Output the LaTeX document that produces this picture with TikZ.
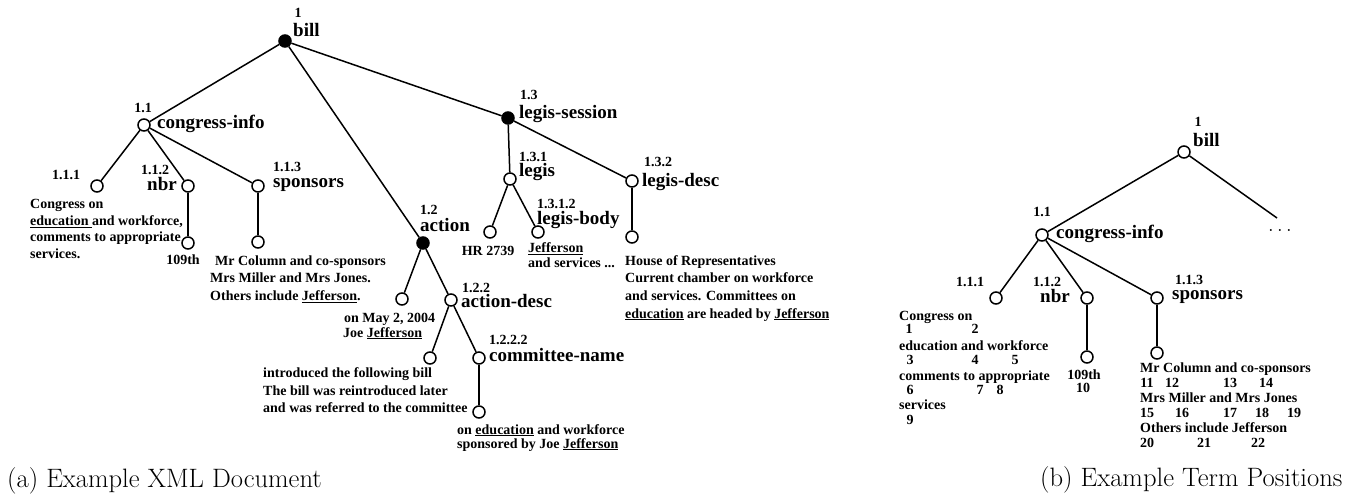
\documentclass[tikz,border=0pt]{standalone}
\usepackage{fontspec}
\newfontfamily\tms{Liberation Serif}
\begin{document}
\begin{tikzpicture}[x=1pt,y=-1pt,
  onode/.style={circle,draw,line width=1.5pt,fill=white,minimum size=12pt,inner sep=0pt},
  fnode/.style={circle,draw,line width=1.5pt,fill=black,minimum size=12pt,inner sep=0pt},
  edge/.style={line width=1.5pt},
  lbl/.style={font=\tms\bfseries\fontsize{19}{22}\selectfont,inner sep=0pt,anchor=base west},
  lnum/.style={font=\tms\bfseries\fontsize{14}{17}\selectfont,inner sep=0pt,anchor=base},
  txt/.style={font=\tms\bfseries\fontsize{14}{17}\selectfont,inner sep=0pt,anchor=base west},
  captxt/.style={font=\fontsize{26.6}{30}\selectfont,inner sep=0pt,anchor=base west}]
\useasboundingbox (0,0) rectangle (1357,494);

% ---------- (a) tree ----------
\node[fnode] (bill) at (285,41) {};
\node[onode] (ci) at (144,125) {};
\node[onode] (n111) at (97,186) {};
\node[onode] (nbr) at (188,186) {};
\node[onode] (spo) at (258,186) {};
\node[onode] (nbr1) at (188,243) {};
\node[onode] (spo1) at (258,242) {};
\node[fnode] (act) at (423,243) {};
\node[onode] (n121) at (402,299) {};
\node[onode] (ad) at (451,300) {};
\node[onode] (n1221) at (430,358) {};
\node[onode] (cn) at (479,358) {};
\node[onode] (cn1) at (479,412) {};
\node[fnode] (ls) at (508,118) {};
\node[onode] (leg) at (510,179) {};
\node[onode] (ld) at (632,181) {};
\node[onode] (hr) at (490,232) {};
\node[onode] (lb) at (538,232) {};
\node[onode] (ld1) at (632,237) {};

\draw[edge] (bill) -- (ci);
\draw[edge] (bill) -- (act);
\draw[edge] (bill) -- (ls);
\draw[edge] (ci) -- (n111);
\draw[edge] (ci) -- (nbr);
\draw[edge] (ci) -- (spo);
\draw[edge] (nbr) -- (nbr1);
\draw[edge] (spo) -- (spo1);
\draw[edge] (act) -- (n121);
\draw[edge] (act) -- (ad);
\draw[edge] (ad) -- (n1221);
\draw[edge] (ad) -- (cn);
\draw[edge] (cn) -- (cn1);
\draw[edge] (ls) -- (leg);
\draw[edge] (ls) -- (ld);
\draw[edge] (leg) -- (hr);
\draw[edge] (leg) -- (lb);
\draw[edge] (ld) -- (ld1);

\node[lnum] (l1) at (298,18) {1};
\node[lbl] (lbill) at (293,37) {bill};
\node[lnum] (l11) at (143,113) {1.1};
\node[lbl] (lci) at (157,129) {congress-info};
\node[lnum] (l111) at (66,180) {1.1.1};
\node[lnum] (l112) at (155,175) {1.1.2};
\node[lbl,anchor=base east] (lnbr) at (177,191) {nbr};
\node[lnum,anchor=base west] (l113) at (273,172) {1.1.3};
\node[lbl] (lspo) at (273,188) {sponsors};
\node[lnum,anchor=base west] (l12) at (420,215) {1.2};
\node[lbl] (lact) at (420,232) {action};
\node[lnum,anchor=base west] (l13) at (520,100) {1.3};
\node[lbl] (lls) at (519,119) {legis-session};
\node[lnum,anchor=base west] (l131) at (519,162) {1.3.1};
\node[lbl] (lleg) at (519,177) {legis};
\node[lnum,anchor=base west] (l132) at (644,167) {1.3.2};
\node[lbl] (lld) at (642,187) {legis-desc};
\node[lnum,anchor=base west] (l1312) at (537,209) {1.3.1.2};
\node[lbl] (llb) at (537,225) {legis-body};
\node[lnum,anchor=base west] (l122) at (462,293) {1.2.2};
\node[lbl] (lad) at (461,308) {action-desc};
\node[lnum,anchor=base west] (l1222) at (489,344) {1.2.2.2};
\node[lbl] (lcn) at (489,361) {committee-name};

\node[txt] (ta1) at (30,209) {Congress on};
\node[txt] (ta2) at (30,226) {\underline{education\ }and workforce,};
\node[txt] (ta3) at (30,242) {comments to appropriate};
\node[txt] (ta4) at (30,259) {services.};
\node[lnum] (tb1) at (183,265) {109th};
\node[txt] (tc1) at (215,266) {Mr Column and co-sponsors};
\node[txt] (tc2) at (210,283) {Mrs Miller and Mrs Jones.};
\node[txt] (tc3) at (210,301) {Others include \underline{Jefferson}.};
\node[lnum] (td1) at (488,256) {HR 2739};
\node[txt] (te1) at (528,253) {\underline{Jefferson}};
\node[txt] (te2) at (528,268) {and services ...};
\node[txt] (tf1) at (625,266) {House of Representatives};
\node[txt] (tf2) at (625,283) {Current chamber on workforce};
\node[txt] (tf3) at (625,301) {and services. Committees on};
\node[txt] (tf4) at (625,318) {\underline{education} are headed by \underline{Jefferson}};
\node[txt] (tg1) at (344,322) {on May 2, 2004};
\node[txt] (tg2) at (343,337) {Joe \underline{Jefferson}};
\node[txt] (th1) at (263,377) {introduced the following bill};
\node[txt] (th2) at (263,395) {The bill was reintroduced later};
\node[txt] (th3) at (263,412) {and was referred to the committee};
\node[txt] (ti1) at (457,434) {on \underline{education} and workforce};
\node[txt] (ti2) at (457,448) {sponsored by Joe \underline{Jefferson}};

\node[captxt] (capa) at (7,487) {(a) Example XML Document};

% ---------- (b) tree ----------
\node[onode] (rbill) at (1184,152) {};
\node[onode] (rci) at (1042,235) {};
\coordinate (rdots) at (1277,218);
\node[onode] (r111) at (996,298) {};
\node[onode] (rnbr) at (1087,298) {};
\node[onode] (rspo) at (1157,298) {};
\node[onode] (rnbr1) at (1087,357) {};
\node[onode] (rspo1) at (1157,353) {};

\draw[edge] (rbill) -- (rci);
\draw[edge] (rbill) -- (rdots);
\draw[edge] (rci) -- (r111);
\draw[edge] (rci) -- (rnbr);
\draw[edge] (rci) -- (rspo);
\draw[edge] (rnbr) -- (rnbr1);
\draw[edge] (rspo) -- (rspo1);

\node[lnum] (r1) at (1198,127) {1};
\node[lbl] (rlbill) at (1193,147) {bill};
\node[lnum] (r11) at (1042,217) {1.1};
\node[lbl] (rlci) at (1056,239) {congress-info};
\node[lnum] (rl111) at (970,287) {1.1.1};
\node[lnum] (rl112) at (1047,287) {1.1.2};
\node[lbl,anchor=base east] (rlnbr) at (1070,302) {nbr};
\node[lnum,anchor=base west] (rl113) at (1175,284) {1.1.3};
\node[lbl] (rlspo) at (1172,300) {sponsors};
\node[inner sep=0pt,anchor=base,font=\fontsize{22}{22}\selectfont] (rldots) at (1280,232) {$\ldots$};

\node[txt] (rt1) at (899,320) {Congress on};
\node[txt] (rt2) at (899,350) {education and workforce};
\node[txt] (rt3) at (899,380) {comments to appropriate};
\node[txt] (rt4) at (899,409) {services};
\node[lnum] (rn1) at (909,334) {1};
\node[lnum] (rn2) at (975,334) {2};
\node[lnum] (rn3) at (910,364) {3};
\node[lnum] (rn4) at (975,364) {4};
\node[lnum] (rn5) at (1015,364) {5};
\node[lnum] (rn6) at (910,394) {6};
\node[lnum] (rn7) at (980,394) {7};
\node[lnum] (rn8) at (1000,394) {8};
\node[lnum] (rn9) at (910,424) {9};
\node[lnum] (rn109) at (1084,379) {109th};
\node[lnum] (rn10) at (1083,392) {10};

\node[txt] (rs1) at (1140,372) {Mr Column and co-sponsors};
\node[txt] (rs2) at (1140,402) {Mrs Miller and Mrs Jones};
\node[txt] (rs3) at (1140,432) {Others include Jefferson};
\node[lnum] (rn11) at (1147,387) {11};
\node[lnum] (rn12) at (1172,387) {12};
\node[lnum] (rn13) at (1230,387) {13};
\node[lnum] (rn14) at (1266,387) {14};
\node[lnum] (rn15) at (1147,417) {15};
\node[lnum] (rn16) at (1182,417) {16};
\node[lnum] (rn17) at (1230,417) {17};
\node[lnum] (rn18) at (1262,417) {18};
\node[lnum] (rn19) at (1294,417) {19};
\node[lnum] (rn20) at (1147,447) {20};
\node[lnum] (rn21) at (1204,447) {21};
\node[lnum] (rn22) at (1258,447) {22};

\node[captxt] (capb) at (1040,486) {(b) Example Term Positions};
\end{tikzpicture}
\end{document}
